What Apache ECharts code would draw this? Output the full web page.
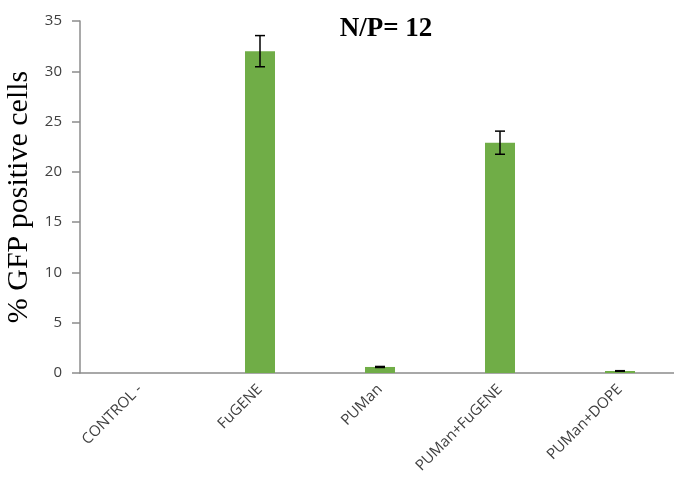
<!DOCTYPE html>
<html><head><meta charset="utf-8">
<script src="https://cdn.jsdelivr.net/npm/echarts@6/dist/echarts.min.js"></script>
<style>html,body{margin:0;padding:0;background:#fff}#c{width:674px;height:481px}</style>
</head><body><div id="c"></div>
<script>
const categories = ['CONTROL -', 'FuGENE', 'PUMan', 'PUMan+FuGENE', 'PUMan+DOPE'];
const values = [0, 32.0, 0.6, 22.9, 0.2];
const errors = [0, 1.55, 0.05, 1.15, 0.03];
const yTicks = [0, 5, 10, 15, 20, 25, 30, 35];

const chart = echarts.init(document.getElementById('c'), null, {renderer: 'canvas'});
chart.setOption({
  animation: false,
  backgroundColor: '#fff',
  title: {
    text: 'N/P= 12', left: 381, top: 11, textAlign: 'center',
    textStyle: {fontFamily: 'Liberation Serif', fontWeight: 'bold', fontSize: 27, color: '#000'}
  },
  grid: {left: 80, top: 21, width: 600, height: 352, containLabel: false, outerBoundsMode: 'none'},
  xAxis: {
    type: 'category', data: categories,
    axisLine: {lineStyle: {color: '#8c8c8c', width: 1.5}},
    axisTick: {show: false},
    axisLabel: {rotate: 45, margin: 14, color: '#404040', fontFamily: 'Open Sans', fontSize: 15, interval: 0}
  },
  yAxis: {
    type: 'value', min: yTicks[0], max: yTicks[yTicks.length - 1], interval: 5,
    name: '% GFP positive cells', nameLocation: 'middle', nameGap: 40,
    nameTextStyle: {fontFamily: 'Liberation Serif', fontSize: 30, color: '#000'},
    axisLine: {show: true, lineStyle: {color: '#8c8c8c', width: 1.5}},
    axisTick: {show: true, length: 8, lineStyle: {color: '#8c8c8c', width: 1.5}},
    splitLine: {show: false},
    axisLabel: {margin: 18, color: '#404040', fontFamily: 'Open Sans', fontSize: 15}
  },
  series: [
    {type: 'bar', data: values, barWidth: 30, itemStyle: {color: '#70AD47'}, z: 2},
    {
      type: 'custom', z: 3,
      data: values.map((v, i) => [i, v, errors[i]]),
      renderItem: function (params, api) {
        const i = api.value(0), v = api.value(1), e = api.value(2);
        if (v === 0) return null;
        const top = api.coord([i, v + e]);
        const bot = api.coord([i, v - e]);
        const hw = 5;
        const style = {stroke: '#000', lineWidth: 1.5};
        return {
          type: 'group',
          children: [
            {type: 'line', shape: {x1: top[0], y1: top[1], x2: bot[0], y2: bot[1]}, style},
            {type: 'line', shape: {x1: top[0] - hw, y1: top[1], x2: top[0] + hw, y2: top[1]}, style},
            {type: 'line', shape: {x1: bot[0] - hw, y1: bot[1], x2: bot[0] + hw, y2: bot[1]}, style}
          ]
        };
      }
    }
  ]
});
</script></body></html>
